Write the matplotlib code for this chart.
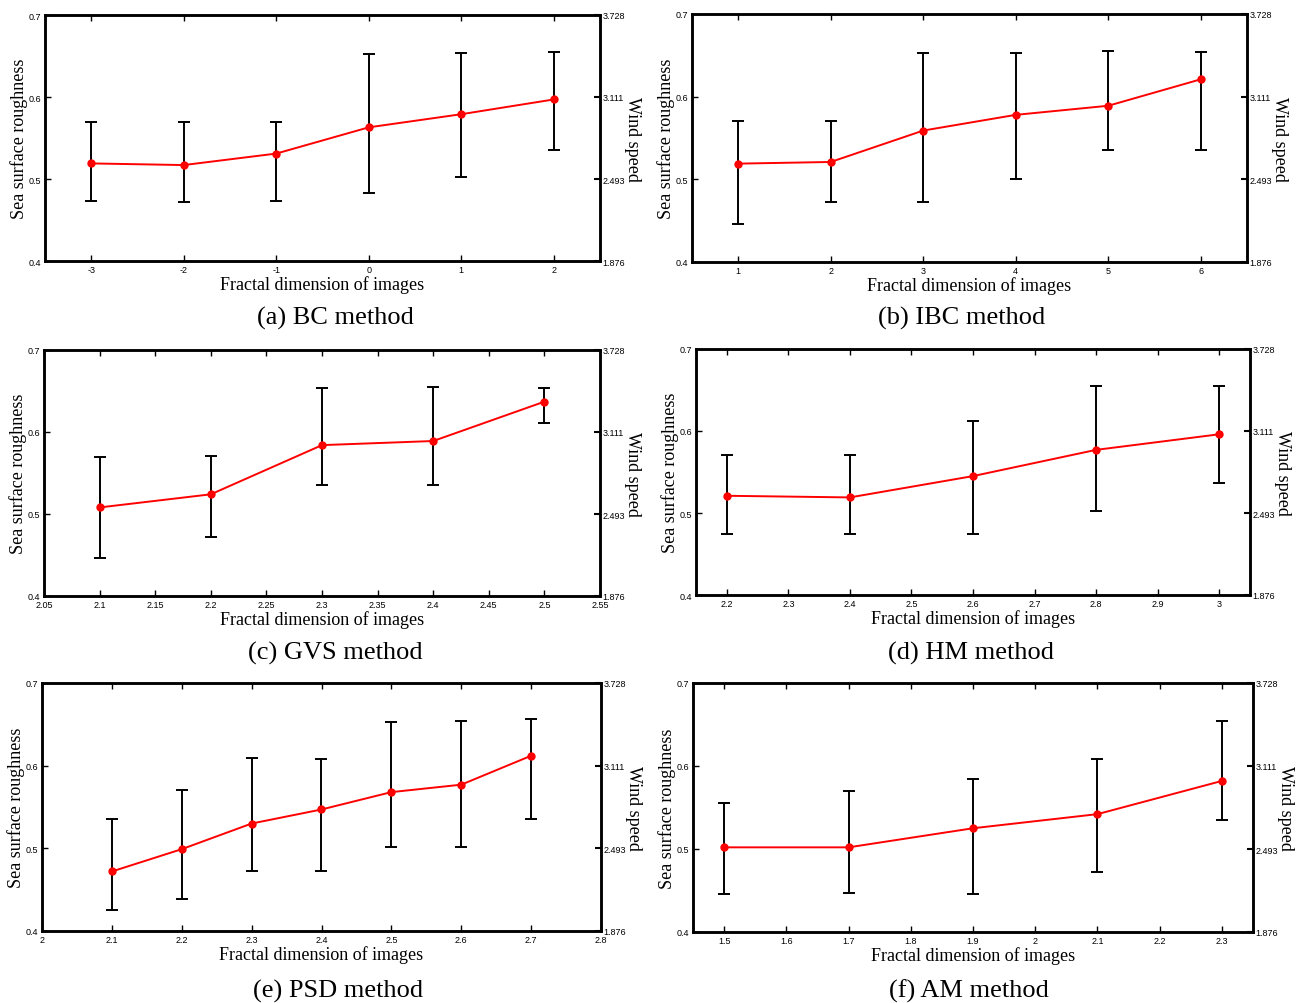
import numpy as np
import matplotlib.pyplot as plt

# roughness vs fractal dimension, one panel per estimation method
bc_x = [-3, -2, -1, 0, 1, 2]
bc_mean = [0.519, 0.517, 0.531, 0.563, 0.579, 0.597]
bc_low = [0.473, 0.472, 0.473, 0.483, 0.503, 0.535]
bc_high = [0.570, 0.570, 0.570, 0.653, 0.654, 0.655]

ibc_x = [1, 2, 3, 4, 5, 6]
ibc_mean = [0.519, 0.521, 0.559, 0.578, 0.589, 0.621]
ibc_low = [0.446, 0.472, 0.473, 0.501, 0.535, 0.535]
ibc_high = [0.570, 0.570, 0.653, 0.653, 0.655, 0.654]

gvs_x = [2.1, 2.2, 2.3, 2.4, 2.5]
gvs_mean = [0.508, 0.524, 0.584, 0.589, 0.637]
gvs_low = [0.446, 0.472, 0.535, 0.535, 0.611]
gvs_high = [0.569, 0.571, 0.654, 0.655, 0.654]

hm_x = [2.2, 2.4, 2.6, 2.8, 3.0]
hm_mean = [0.521, 0.519, 0.545, 0.577, 0.596]
hm_low = [0.474, 0.474, 0.474, 0.503, 0.536]
hm_high = [0.571, 0.571, 0.612, 0.655, 0.655]

psd_x = [2.1, 2.2, 2.3, 2.4, 2.5, 2.6, 2.7]
psd_mean = [0.472, 0.499, 0.530, 0.547, 0.568, 0.577, 0.612]
psd_low = [0.425, 0.439, 0.473, 0.473, 0.502, 0.502, 0.536]
psd_high = [0.535, 0.570, 0.609, 0.608, 0.653, 0.654, 0.656]

am_x = [1.5, 1.7, 1.9, 2.1, 2.3]
am_mean = [0.502, 0.502, 0.525, 0.542, 0.582]
am_low = [0.446, 0.447, 0.446, 0.472, 0.535]
am_high = [0.555, 0.570, 0.584, 0.609, 0.654]

rough_ticks = [0.4, 0.5, 0.6, 0.7]
wind_ticks = ['1.876', '2.493', '3.111', '3.728']

panels = [
    # data, x limits, x ticks, x tick labels, caption, caption centre (px), axes box (l, r, t, b)
    (bc_x, bc_mean, bc_low, bc_high, (-3.5, 2.5), bc_x, ['-3', '-2', '-1', '0', '1', '2'],
     '(a) BC method', (335, 318), (45, 600, 16, 262)),
    (ibc_x, ibc_mean, ibc_low, ibc_high, (0.5, 6.5), ibc_x, ['1', '2', '3', '4', '5', '6'],
     '(b) IBC method', (962, 318), (692, 1247, 15, 263)),
    (gvs_x, gvs_mean, gvs_low, gvs_high, (2.05, 2.55), np.arange(2.05, 2.56, 0.05),
     ['2.05', '2.1', '2.15', '2.2', '2.25', '2.3', '2.35', '2.4', '2.45', '2.5', '2.55'],
     '(c) GVS method', (335, 653), (44, 600, 351, 597)),
    (hm_x, hm_mean, hm_low, hm_high, (2.15, 3.05), np.arange(2.2, 3.01, 0.1),
     ['2.2', '2.3', '2.4', '2.5', '2.6', '2.7', '2.8', '2.9', '3'],
     '(d) HM method', (971, 653), (696, 1250, 350, 596)),
    (psd_x, psd_mean, psd_low, psd_high, (2.0, 2.8), np.arange(2.0, 2.81, 0.1),
     ['2', '2.1', '2.2', '2.3', '2.4', '2.5', '2.6', '2.7', '2.8'],
     '(e) PSD method', (338, 991), (42, 601, 684, 932)),
    (am_x, am_mean, am_low, am_high, (1.45, 2.35), np.arange(1.5, 2.31, 0.1),
     ['1.5', '1.6', '1.7', '1.8', '1.9', '2', '2.1', '2.2', '2.3'],
     '(f) AM method', (969, 991), (693, 1253, 684, 933)),
]

W, H = 1304, 1004
serif = 'Liberation Serif'
sans = 'Liberation Sans'

fig = plt.figure(figsize=(W / 100, H / 100), dpi=100)

for x, mean, low, high, xlim, xt, xtl, caption, cpos, box in panels:
    l, r, t, b = box
    ax = fig.add_axes([l / W, 1 - b / H, (r - l) / W, (b - t) / H])
    mean = np.array(mean)
    yerr = [mean - np.array(low), np.array(high) - mean]
    ax.errorbar(x, mean, yerr=yerr, fmt='none', ecolor='black', elinewidth=1.4,
                capsize=4, capthick=1.4, zorder=2)
    ax.plot(x, mean, color='red', marker='o', markersize=5, linewidth=1.4, zorder=3)

    ax.set_xlim(*xlim)
    ax.set_ylim(0.4, 0.7)
    ax.set_xticks(xt)
    ax.set_xticklabels(xtl, fontsize=6.5, family=sans)
    ax.set_yticks(rough_ticks)
    ax.set_yticklabels(['0.4', '0.5', '0.6', '0.7'], fontsize=6.5, family=sans)
    ax.tick_params(direction='in', length=4, width=1, top=True, pad=3)
    for s in ax.spines.values():
        s.set_linewidth(1.8)
    ax.set_xlabel('Fractal dimension of images', fontsize=13, family=serif, labelpad=1)
    ax.set_ylabel('Sea surface roughness', fontsize=13, family=serif, labelpad=0)

    ax2 = ax.twinx()
    ax2.set_ylim(1.876, 3.728)
    ax2.set_yticks([float(v) for v in wind_ticks])
    ax2.set_yticklabels(wind_ticks, fontsize=6.5, family=sans)
    ax2.tick_params(direction='in', length=4, width=1.5, pad=2)
    ax2.set_ylabel('Wind speed', fontsize=13, family=serif, rotation=-90, labelpad=11)
    for s in ax2.spines.values():
        s.set_linewidth(1.8)

    fig.text(cpos[0] / W, 1 - cpos[1] / H, caption, fontsize=19, family=serif,
             ha='center', va='center')

plt.savefig('out.png', dpi=100)
